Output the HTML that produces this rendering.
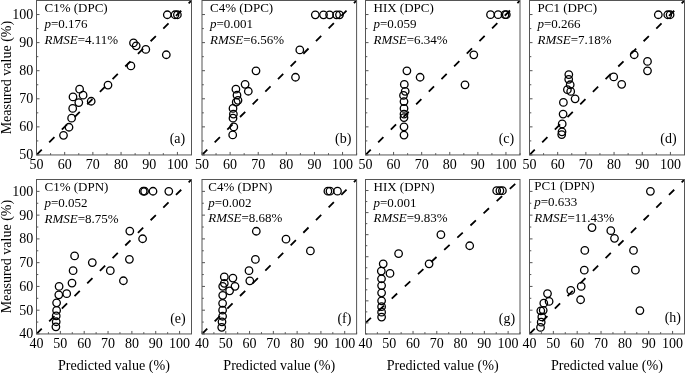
<!DOCTYPE html>
<html><head><meta charset="utf-8"><style>
html,body{margin:0;padding:0;background:#fff;width:685px;height:373px;overflow:hidden;position:relative}
text{font-family:"Liberation Serif", serif;fill:#000}
.tl{font-size:14px}
.an{font-size:13px}
.pl{font-size:14px}
.ax{font-size:14.1px}
.ay{font-size:14px}
</style></head><body>
<svg width="685" height="373" viewBox="0 0 685 373" style="position:absolute;left:0;top:0;will-change:transform">
<clipPath id="cpa"><rect x="36.5" y="0.5" width="155" height="154.45"/></clipPath>
<line x1="36.5" y1="154.95" x2="191.5" y2="0.5" stroke="#000" stroke-width="1.8" stroke-dasharray="7.4 10.5" clip-path="url(#cpa)"/>
<circle cx="167.3" cy="14.75" r="3.75" fill="none" stroke="#000" stroke-width="1.3"/>
<circle cx="175" cy="14.75" r="3.75" fill="none" stroke="#000" stroke-width="1.3"/>
<circle cx="177.4" cy="14.75" r="3.75" fill="none" stroke="#000" stroke-width="1.3"/>
<circle cx="133.5" cy="42.95" r="3.75" fill="none" stroke="#000" stroke-width="1.3"/>
<circle cx="136.2" cy="45.85" r="3.75" fill="none" stroke="#000" stroke-width="1.3"/>
<circle cx="145.8" cy="49.45" r="3.75" fill="none" stroke="#000" stroke-width="1.3"/>
<circle cx="166.3" cy="54.75" r="3.75" fill="none" stroke="#000" stroke-width="1.3"/>
<circle cx="130.9" cy="65.95" r="3.75" fill="none" stroke="#000" stroke-width="1.3"/>
<circle cx="108" cy="85.05" r="3.75" fill="none" stroke="#000" stroke-width="1.3"/>
<circle cx="79.6" cy="89.15" r="3.75" fill="none" stroke="#000" stroke-width="1.3"/>
<circle cx="83.1" cy="95.15" r="3.75" fill="none" stroke="#000" stroke-width="1.3"/>
<circle cx="73" cy="96.95" r="3.75" fill="none" stroke="#000" stroke-width="1.3"/>
<circle cx="78.8" cy="102.55" r="3.75" fill="none" stroke="#000" stroke-width="1.3"/>
<circle cx="91.2" cy="101.25" r="3.75" fill="none" stroke="#000" stroke-width="1.3"/>
<circle cx="72.7" cy="108.45" r="3.75" fill="none" stroke="#000" stroke-width="1.3"/>
<circle cx="71.6" cy="118.15" r="3.75" fill="none" stroke="#000" stroke-width="1.3"/>
<circle cx="69" cy="127.25" r="3.75" fill="none" stroke="#000" stroke-width="1.3"/>
<circle cx="63.5" cy="135.35" r="3.75" fill="none" stroke="#000" stroke-width="1.3"/>
<rect x="36.5" y="0.5" width="155" height="154.45" fill="none" stroke="#555" stroke-width="1"/>
<path d="M36.5 154.95v-3 M50.59 154.95v-1.8 M64.68 154.95v-3 M78.77 154.95v-1.8 M92.86 154.95v-3 M106.95 154.95v-1.8 M121.05 154.95v-3 M135.14 154.95v-1.8 M149.23 154.95v-3 M163.32 154.95v-1.8 M177.41 154.95v-3 M191.5 154.95v-1.8 M36.5 154.95h3 M36.5 140.91h1.8 M36.5 126.87h3 M36.5 112.83h1.8 M36.5 98.79h3 M36.5 84.75h1.8 M36.5 70.7h3 M36.5 56.66h1.8 M36.5 42.62h3 M36.5 28.58h1.8 M36.5 14.54h3 M36.5 0.5h1.8" stroke="#555" stroke-width="1" fill="none"/>
<text x="36.5" y="169.1" text-anchor="middle" class="tl">50</text>
<text x="64.68" y="169.1" text-anchor="middle" class="tl">60</text>
<text x="92.86" y="169.1" text-anchor="middle" class="tl">70</text>
<text x="121.05" y="169.1" text-anchor="middle" class="tl">80</text>
<text x="149.23" y="169.1" text-anchor="middle" class="tl">90</text>
<text x="177.41" y="169.1" text-anchor="middle" class="tl">100</text>
<text x="33.3" y="159.45" text-anchor="end" class="tl">50</text>
<text x="33.3" y="131.37" text-anchor="end" class="tl">60</text>
<text x="33.3" y="103.29" text-anchor="end" class="tl">70</text>
<text x="33.3" y="75.2" text-anchor="end" class="tl">80</text>
<text x="33.3" y="47.12" text-anchor="end" class="tl">90</text>
<text x="33.3" y="19.04" text-anchor="end" class="tl">100</text>
<text x="44.5" y="11.9" class="an">C1% (DPC)</text>
<text x="44.5" y="28" class="an"><tspan font-style="italic">p</tspan>=0.176</text>
<text x="44.5" y="43.8" class="an"><tspan font-style="italic">RMSE</tspan>=4.11%</text>
<text x="185.2" y="143.3" text-anchor="end" class="pl">(a)</text>
<clipPath id="cpb"><rect x="202" y="0.5" width="154.6" height="154.45"/></clipPath>
<line x1="202" y1="154.95" x2="356.6" y2="0.5" stroke="#000" stroke-width="1.8" stroke-dasharray="7.4 10.5" clip-path="url(#cpb)"/>
<circle cx="315.3" cy="14.85" r="3.75" fill="none" stroke="#000" stroke-width="1.3"/>
<circle cx="323.5" cy="14.85" r="3.75" fill="none" stroke="#000" stroke-width="1.3"/>
<circle cx="329.6" cy="14.85" r="3.75" fill="none" stroke="#000" stroke-width="1.3"/>
<circle cx="336.6" cy="14.85" r="3.75" fill="none" stroke="#000" stroke-width="1.3"/>
<circle cx="339.5" cy="14.85" r="3.75" fill="none" stroke="#000" stroke-width="1.3"/>
<circle cx="299.8" cy="49.95" r="3.75" fill="none" stroke="#000" stroke-width="1.3"/>
<circle cx="256" cy="70.85" r="3.75" fill="none" stroke="#000" stroke-width="1.3"/>
<circle cx="295.5" cy="77.25" r="3.75" fill="none" stroke="#000" stroke-width="1.3"/>
<circle cx="245.1" cy="84.35" r="3.75" fill="none" stroke="#000" stroke-width="1.3"/>
<circle cx="248.3" cy="91.25" r="3.75" fill="none" stroke="#000" stroke-width="1.3"/>
<circle cx="235.9" cy="89.15" r="3.75" fill="none" stroke="#000" stroke-width="1.3"/>
<circle cx="237" cy="95.15" r="3.75" fill="none" stroke="#000" stroke-width="1.3"/>
<circle cx="238" cy="100.35" r="3.75" fill="none" stroke="#000" stroke-width="1.3"/>
<circle cx="236.2" cy="102.05" r="3.75" fill="none" stroke="#000" stroke-width="1.3"/>
<circle cx="233" cy="108.45" r="3.75" fill="none" stroke="#000" stroke-width="1.3"/>
<circle cx="233.4" cy="114.05" r="3.75" fill="none" stroke="#000" stroke-width="1.3"/>
<circle cx="233" cy="118.15" r="3.75" fill="none" stroke="#000" stroke-width="1.3"/>
<circle cx="233.8" cy="126.95" r="3.75" fill="none" stroke="#000" stroke-width="1.3"/>
<circle cx="232.7" cy="134.95" r="3.75" fill="none" stroke="#000" stroke-width="1.3"/>
<rect x="202" y="0.5" width="154.6" height="154.45" fill="none" stroke="#555" stroke-width="1"/>
<path d="M202 154.95v-3 M216.05 154.95v-1.8 M230.11 154.95v-3 M244.16 154.95v-1.8 M258.22 154.95v-3 M272.27 154.95v-1.8 M286.33 154.95v-3 M300.38 154.95v-1.8 M314.44 154.95v-3 M328.49 154.95v-1.8 M342.55 154.95v-3 M356.6 154.95v-1.8 M202 154.95h3 M202 140.91h1.8 M202 126.87h3 M202 112.83h1.8 M202 98.79h3 M202 84.75h1.8 M202 70.7h3 M202 56.66h1.8 M202 42.62h3 M202 28.58h1.8 M202 14.54h3 M202 0.5h1.8" stroke="#555" stroke-width="1" fill="none"/>
<text x="202" y="169.1" text-anchor="middle" class="tl">50</text>
<text x="230.11" y="169.1" text-anchor="middle" class="tl">60</text>
<text x="258.22" y="169.1" text-anchor="middle" class="tl">70</text>
<text x="286.33" y="169.1" text-anchor="middle" class="tl">80</text>
<text x="314.44" y="169.1" text-anchor="middle" class="tl">90</text>
<text x="342.55" y="169.1" text-anchor="middle" class="tl">100</text>
<text x="210" y="11.9" class="an">C4% (DPC)</text>
<text x="210" y="28" class="an"><tspan font-style="italic">p</tspan>=0.001</text>
<text x="210" y="43.8" class="an"><tspan font-style="italic">RMSE</tspan>=6.56%</text>
<text x="351.4" y="143.3" text-anchor="end" class="pl">(b)</text>
<clipPath id="cpc"><rect x="365.5" y="0.5" width="154.5" height="154.45"/></clipPath>
<line x1="365.5" y1="154.95" x2="520" y2="0.5" stroke="#000" stroke-width="1.8" stroke-dasharray="7.4 10.5" clip-path="url(#cpc)"/>
<circle cx="490.5" cy="14.65" r="3.75" fill="none" stroke="#000" stroke-width="1.3"/>
<circle cx="498.1" cy="14.65" r="3.75" fill="none" stroke="#000" stroke-width="1.3"/>
<circle cx="505" cy="14.65" r="3.75" fill="none" stroke="#000" stroke-width="1.3"/>
<circle cx="506.3" cy="14.65" r="3.75" fill="none" stroke="#000" stroke-width="1.3"/>
<circle cx="473.8" cy="54.85" r="3.75" fill="none" stroke="#000" stroke-width="1.3"/>
<circle cx="406.9" cy="70.85" r="3.75" fill="none" stroke="#000" stroke-width="1.3"/>
<circle cx="420.1" cy="77.25" r="3.75" fill="none" stroke="#000" stroke-width="1.3"/>
<circle cx="465" cy="84.85" r="3.75" fill="none" stroke="#000" stroke-width="1.3"/>
<circle cx="404.3" cy="84.45" r="3.75" fill="none" stroke="#000" stroke-width="1.3"/>
<circle cx="405.2" cy="91.35" r="3.75" fill="none" stroke="#000" stroke-width="1.3"/>
<circle cx="403.5" cy="95.45" r="3.75" fill="none" stroke="#000" stroke-width="1.3"/>
<circle cx="404" cy="101.55" r="3.75" fill="none" stroke="#000" stroke-width="1.3"/>
<circle cx="404" cy="108.45" r="3.75" fill="none" stroke="#000" stroke-width="1.3"/>
<circle cx="404" cy="114.05" r="3.75" fill="none" stroke="#000" stroke-width="1.3"/>
<circle cx="404" cy="117.55" r="3.75" fill="none" stroke="#000" stroke-width="1.3"/>
<circle cx="404" cy="126.85" r="3.75" fill="none" stroke="#000" stroke-width="1.3"/>
<circle cx="404" cy="135.05" r="3.75" fill="none" stroke="#000" stroke-width="1.3"/>
<rect x="365.5" y="0.5" width="154.5" height="154.45" fill="none" stroke="#555" stroke-width="1"/>
<path d="M365.5 154.95v-3 M379.55 154.95v-1.8 M393.59 154.95v-3 M407.64 154.95v-1.8 M421.68 154.95v-3 M435.73 154.95v-1.8 M449.77 154.95v-3 M463.82 154.95v-1.8 M477.86 154.95v-3 M491.91 154.95v-1.8 M505.95 154.95v-3 M520 154.95v-1.8 M365.5 154.95h3 M365.5 140.91h1.8 M365.5 126.87h3 M365.5 112.83h1.8 M365.5 98.79h3 M365.5 84.75h1.8 M365.5 70.7h3 M365.5 56.66h1.8 M365.5 42.62h3 M365.5 28.58h1.8 M365.5 14.54h3 M365.5 0.5h1.8" stroke="#555" stroke-width="1" fill="none"/>
<text x="365.5" y="169.1" text-anchor="middle" class="tl">50</text>
<text x="393.59" y="169.1" text-anchor="middle" class="tl">60</text>
<text x="421.68" y="169.1" text-anchor="middle" class="tl">70</text>
<text x="449.77" y="169.1" text-anchor="middle" class="tl">80</text>
<text x="477.86" y="169.1" text-anchor="middle" class="tl">90</text>
<text x="505.95" y="169.1" text-anchor="middle" class="tl">100</text>
<text x="373.5" y="11.9" class="an">HIX (DPC)</text>
<text x="373.5" y="28" class="an"><tspan font-style="italic">p</tspan>=0.059</text>
<text x="373.5" y="43.8" class="an"><tspan font-style="italic">RMSE</tspan>=6.34%</text>
<text x="514.2" y="142.7" text-anchor="end" class="pl">(c)</text>
<clipPath id="cpd"><rect x="529.5" y="0.5" width="155" height="154.45"/></clipPath>
<line x1="529.5" y1="154.95" x2="684.5" y2="0.5" stroke="#000" stroke-width="1.8" stroke-dasharray="7.4 10.5" clip-path="url(#cpd)"/>
<circle cx="658.3" cy="14.75" r="3.75" fill="none" stroke="#000" stroke-width="1.3"/>
<circle cx="667.75" cy="14.75" r="3.75" fill="none" stroke="#000" stroke-width="1.3"/>
<circle cx="670.1" cy="14.75" r="3.75" fill="none" stroke="#000" stroke-width="1.3"/>
<circle cx="634.2" cy="54.75" r="3.75" fill="none" stroke="#000" stroke-width="1.3"/>
<circle cx="647.5" cy="61.45" r="3.75" fill="none" stroke="#000" stroke-width="1.3"/>
<circle cx="647.5" cy="70.85" r="3.75" fill="none" stroke="#000" stroke-width="1.3"/>
<circle cx="613.7" cy="76.95" r="3.75" fill="none" stroke="#000" stroke-width="1.3"/>
<circle cx="621.7" cy="84.35" r="3.75" fill="none" stroke="#000" stroke-width="1.3"/>
<circle cx="568.8" cy="74.55" r="3.75" fill="none" stroke="#000" stroke-width="1.3"/>
<circle cx="568.7" cy="79.35" r="3.75" fill="none" stroke="#000" stroke-width="1.3"/>
<circle cx="570.2" cy="84.75" r="3.75" fill="none" stroke="#000" stroke-width="1.3"/>
<circle cx="567.4" cy="89.65" r="3.75" fill="none" stroke="#000" stroke-width="1.3"/>
<circle cx="570.7" cy="91.45" r="3.75" fill="none" stroke="#000" stroke-width="1.3"/>
<circle cx="575.1" cy="98.85" r="3.75" fill="none" stroke="#000" stroke-width="1.3"/>
<circle cx="563.4" cy="102.45" r="3.75" fill="none" stroke="#000" stroke-width="1.3"/>
<circle cx="563.1" cy="114.1" r="3.75" fill="none" stroke="#000" stroke-width="1.3"/>
<circle cx="562.2" cy="123.95" r="3.75" fill="none" stroke="#000" stroke-width="1.3"/>
<circle cx="562" cy="131.85" r="3.75" fill="none" stroke="#000" stroke-width="1.3"/>
<circle cx="561.7" cy="134.55" r="3.75" fill="none" stroke="#000" stroke-width="1.3"/>
<rect x="529.5" y="0.5" width="155" height="154.45" fill="none" stroke="#555" stroke-width="1"/>
<path d="M529.5 154.95v-3 M543.59 154.95v-1.8 M557.68 154.95v-3 M571.77 154.95v-1.8 M585.86 154.95v-3 M599.95 154.95v-1.8 M614.05 154.95v-3 M628.14 154.95v-1.8 M642.23 154.95v-3 M656.32 154.95v-1.8 M670.41 154.95v-3 M684.5 154.95v-1.8 M529.5 154.95h3 M529.5 140.91h1.8 M529.5 126.87h3 M529.5 112.83h1.8 M529.5 98.79h3 M529.5 84.75h1.8 M529.5 70.7h3 M529.5 56.66h1.8 M529.5 42.62h3 M529.5 28.58h1.8 M529.5 14.54h3 M529.5 0.5h1.8" stroke="#555" stroke-width="1" fill="none"/>
<text x="529.5" y="169.1" text-anchor="middle" class="tl">50</text>
<text x="557.68" y="169.1" text-anchor="middle" class="tl">60</text>
<text x="585.86" y="169.1" text-anchor="middle" class="tl">70</text>
<text x="614.05" y="169.1" text-anchor="middle" class="tl">80</text>
<text x="642.23" y="169.1" text-anchor="middle" class="tl">90</text>
<text x="670.41" y="169.1" text-anchor="middle" class="tl">100</text>
<text x="537.5" y="11.9" class="an">PC1 (DPC)</text>
<text x="537.5" y="28" class="an"><tspan font-style="italic">p</tspan>=0.266</text>
<text x="537.5" y="43.8" class="an"><tspan font-style="italic">RMSE</tspan>=7.18%</text>
<text x="676.7" y="143.3" text-anchor="end" class="pl">(d)</text>
<clipPath id="cpe"><rect x="36.5" y="179.5" width="155" height="154.45"/></clipPath>
<line x1="36.5" y1="333.95" x2="191.5" y2="179.5" stroke="#000" stroke-width="1.8" stroke-dasharray="7.4 10.5" clip-path="url(#cpe)"/>
<circle cx="143.2" cy="191.25" r="3.75" fill="none" stroke="#000" stroke-width="1.3"/>
<circle cx="144.6" cy="191.25" r="3.75" fill="none" stroke="#000" stroke-width="1.3"/>
<circle cx="153" cy="191.25" r="3.75" fill="none" stroke="#000" stroke-width="1.3"/>
<circle cx="168.8" cy="191.35" r="3.75" fill="none" stroke="#000" stroke-width="1.3"/>
<circle cx="129.8" cy="231.05" r="3.75" fill="none" stroke="#000" stroke-width="1.3"/>
<circle cx="142.6" cy="238.75" r="3.75" fill="none" stroke="#000" stroke-width="1.3"/>
<circle cx="74.6" cy="255.95" r="3.75" fill="none" stroke="#000" stroke-width="1.3"/>
<circle cx="92.3" cy="262.55" r="3.75" fill="none" stroke="#000" stroke-width="1.3"/>
<circle cx="129.4" cy="259.35" r="3.75" fill="none" stroke="#000" stroke-width="1.3"/>
<circle cx="73.1" cy="270.65" r="3.75" fill="none" stroke="#000" stroke-width="1.3"/>
<circle cx="110.3" cy="270.65" r="3.75" fill="none" stroke="#000" stroke-width="1.3"/>
<circle cx="72" cy="283.05" r="3.75" fill="none" stroke="#000" stroke-width="1.3"/>
<circle cx="123.4" cy="280.75" r="3.75" fill="none" stroke="#000" stroke-width="1.3"/>
<circle cx="59.1" cy="286.45" r="3.75" fill="none" stroke="#000" stroke-width="1.3"/>
<circle cx="66.7" cy="293.65" r="3.75" fill="none" stroke="#000" stroke-width="1.3"/>
<circle cx="58.8" cy="294.85" r="3.75" fill="none" stroke="#000" stroke-width="1.3"/>
<circle cx="56.6" cy="302.85" r="3.75" fill="none" stroke="#000" stroke-width="1.3"/>
<circle cx="56.6" cy="310.45" r="3.75" fill="none" stroke="#000" stroke-width="1.3"/>
<circle cx="56.2" cy="315.95" r="3.75" fill="none" stroke="#000" stroke-width="1.3"/>
<circle cx="56.2" cy="321.75" r="3.75" fill="none" stroke="#000" stroke-width="1.3"/>
<circle cx="55.9" cy="326.85" r="3.75" fill="none" stroke="#000" stroke-width="1.3"/>
<rect x="36.5" y="179.5" width="155" height="154.45" fill="none" stroke="#555" stroke-width="1"/>
<path d="M36.5 333.95v-3 M48.42 333.95v-1.8 M60.35 333.95v-3 M72.27 333.95v-1.8 M84.19 333.95v-3 M96.12 333.95v-1.8 M108.04 333.95v-3 M119.96 333.95v-1.8 M131.88 333.95v-3 M143.81 333.95v-1.8 M155.73 333.95v-3 M167.65 333.95v-1.8 M179.58 333.95v-3 M191.5 333.95v-1.8 M36.5 333.95h3 M36.5 322.07h1.8 M36.5 310.19h3 M36.5 298.31h1.8 M36.5 286.43h3 M36.5 274.55h1.8 M36.5 262.67h3 M36.5 250.78h1.8 M36.5 238.9h3 M36.5 227.02h1.8 M36.5 215.14h3 M36.5 203.26h1.8 M36.5 191.38h3 M36.5 179.5h1.8" stroke="#555" stroke-width="1" fill="none"/>
<text x="36.5" y="347.8" text-anchor="middle" class="tl">40</text>
<text x="60.35" y="347.8" text-anchor="middle" class="tl">50</text>
<text x="84.19" y="347.8" text-anchor="middle" class="tl">60</text>
<text x="108.04" y="347.8" text-anchor="middle" class="tl">70</text>
<text x="131.88" y="347.8" text-anchor="middle" class="tl">80</text>
<text x="155.73" y="347.8" text-anchor="middle" class="tl">90</text>
<text x="179.58" y="347.8" text-anchor="middle" class="tl">100</text>
<text x="33.3" y="338.45" text-anchor="end" class="tl">40</text>
<text x="33.3" y="314.69" text-anchor="end" class="tl">50</text>
<text x="33.3" y="290.93" text-anchor="end" class="tl">60</text>
<text x="33.3" y="267.17" text-anchor="end" class="tl">70</text>
<text x="33.3" y="243.4" text-anchor="end" class="tl">80</text>
<text x="33.3" y="219.64" text-anchor="end" class="tl">90</text>
<text x="33.3" y="195.88" text-anchor="end" class="tl">100</text>
<text x="44.5" y="190.8" class="an">C1% (DPN)</text>
<text x="44.5" y="206.9" class="an"><tspan font-style="italic">p</tspan>=0.052</text>
<text x="44.5" y="222.7" class="an"><tspan font-style="italic">RMSE</tspan>=8.75%</text>
<text x="185.7" y="322.5" text-anchor="end" class="pl">(e)</text>
<clipPath id="cpf"><rect x="202" y="179.5" width="154.6" height="154.45"/></clipPath>
<line x1="202" y1="333.95" x2="356.6" y2="179.5" stroke="#000" stroke-width="1.8" stroke-dasharray="7.4 10.5" clip-path="url(#cpf)"/>
<circle cx="327.9" cy="191.15" r="3.75" fill="none" stroke="#000" stroke-width="1.3"/>
<circle cx="330" cy="191.15" r="3.75" fill="none" stroke="#000" stroke-width="1.3"/>
<circle cx="337.5" cy="191.15" r="3.75" fill="none" stroke="#000" stroke-width="1.3"/>
<circle cx="256.3" cy="231.25" r="3.75" fill="none" stroke="#000" stroke-width="1.3"/>
<circle cx="286" cy="239.15" r="3.75" fill="none" stroke="#000" stroke-width="1.3"/>
<circle cx="310.4" cy="250.95" r="3.75" fill="none" stroke="#000" stroke-width="1.3"/>
<circle cx="255.4" cy="259.45" r="3.75" fill="none" stroke="#000" stroke-width="1.3"/>
<circle cx="249" cy="270.65" r="3.75" fill="none" stroke="#000" stroke-width="1.3"/>
<circle cx="249.8" cy="280.85" r="3.75" fill="none" stroke="#000" stroke-width="1.3"/>
<circle cx="224.3" cy="276.95" r="3.75" fill="none" stroke="#000" stroke-width="1.3"/>
<circle cx="232.9" cy="278.05" r="3.75" fill="none" stroke="#000" stroke-width="1.3"/>
<circle cx="224.3" cy="283.35" r="3.75" fill="none" stroke="#000" stroke-width="1.3"/>
<circle cx="222.7" cy="286.35" r="3.75" fill="none" stroke="#000" stroke-width="1.3"/>
<circle cx="235" cy="286.35" r="3.75" fill="none" stroke="#000" stroke-width="1.3"/>
<circle cx="229.6" cy="290.85" r="3.75" fill="none" stroke="#000" stroke-width="1.3"/>
<circle cx="222.7" cy="295.35" r="3.75" fill="none" stroke="#000" stroke-width="1.3"/>
<circle cx="222.6" cy="303.35" r="3.75" fill="none" stroke="#000" stroke-width="1.3"/>
<circle cx="222.6" cy="310.15" r="3.75" fill="none" stroke="#000" stroke-width="1.3"/>
<circle cx="222.6" cy="316.25" r="3.75" fill="none" stroke="#000" stroke-width="1.3"/>
<circle cx="222" cy="321.85" r="3.75" fill="none" stroke="#000" stroke-width="1.3"/>
<circle cx="221.7" cy="327.35" r="3.75" fill="none" stroke="#000" stroke-width="1.3"/>
<rect x="202" y="179.5" width="154.6" height="154.45" fill="none" stroke="#555" stroke-width="1"/>
<path d="M202 333.95v-3 M213.89 333.95v-1.8 M225.78 333.95v-3 M237.68 333.95v-1.8 M249.57 333.95v-3 M261.46 333.95v-1.8 M273.35 333.95v-3 M285.25 333.95v-1.8 M297.14 333.95v-3 M309.03 333.95v-1.8 M320.92 333.95v-3 M332.82 333.95v-1.8 M344.71 333.95v-3 M356.6 333.95v-1.8 M202 333.95h3 M202 322.07h1.8 M202 310.19h3 M202 298.31h1.8 M202 286.43h3 M202 274.55h1.8 M202 262.67h3 M202 250.78h1.8 M202 238.9h3 M202 227.02h1.8 M202 215.14h3 M202 203.26h1.8 M202 191.38h3 M202 179.5h1.8" stroke="#555" stroke-width="1" fill="none"/>
<text x="202" y="347.8" text-anchor="middle" class="tl">40</text>
<text x="225.78" y="347.8" text-anchor="middle" class="tl">50</text>
<text x="249.57" y="347.8" text-anchor="middle" class="tl">60</text>
<text x="273.35" y="347.8" text-anchor="middle" class="tl">70</text>
<text x="297.14" y="347.8" text-anchor="middle" class="tl">80</text>
<text x="320.92" y="347.8" text-anchor="middle" class="tl">90</text>
<text x="344.71" y="347.8" text-anchor="middle" class="tl">100</text>
<text x="208.3" y="190.5" class="an">C4% (DPN)</text>
<text x="208.3" y="206.6" class="an"><tspan font-style="italic">p</tspan>=0.002</text>
<text x="208.3" y="222.4" class="an"><tspan font-style="italic">RMSE</tspan>=8.68%</text>
<text x="351.4" y="322.8" text-anchor="end" class="pl">(f)</text>
<clipPath id="cpg"><rect x="365.5" y="179.5" width="154.5" height="154.45"/></clipPath>
<line x1="365.5" y1="322.92" x2="520" y2="179.5" stroke="#000" stroke-width="1.8" stroke-dasharray="7.4 10.5" clip-path="url(#cpg)"/>
<circle cx="496.7" cy="190.65" r="3.75" fill="none" stroke="#000" stroke-width="1.3"/>
<circle cx="499.9" cy="190.65" r="3.75" fill="none" stroke="#000" stroke-width="1.3"/>
<circle cx="502.4" cy="190.65" r="3.75" fill="none" stroke="#000" stroke-width="1.3"/>
<circle cx="440.9" cy="234.65" r="3.75" fill="none" stroke="#000" stroke-width="1.3"/>
<circle cx="469.7" cy="245.75" r="3.75" fill="none" stroke="#000" stroke-width="1.3"/>
<circle cx="398.6" cy="253.55" r="3.75" fill="none" stroke="#000" stroke-width="1.3"/>
<circle cx="429.1" cy="263.85" r="3.75" fill="none" stroke="#000" stroke-width="1.3"/>
<circle cx="383.2" cy="263.85" r="3.75" fill="none" stroke="#000" stroke-width="1.3"/>
<circle cx="381.3" cy="271.05" r="3.75" fill="none" stroke="#000" stroke-width="1.3"/>
<circle cx="390" cy="273.45" r="3.75" fill="none" stroke="#000" stroke-width="1.3"/>
<circle cx="381.5" cy="278.75" r="3.75" fill="none" stroke="#000" stroke-width="1.3"/>
<circle cx="381.6" cy="285.55" r="3.75" fill="none" stroke="#000" stroke-width="1.3"/>
<circle cx="381.6" cy="292.85" r="3.75" fill="none" stroke="#000" stroke-width="1.3"/>
<circle cx="381.6" cy="300.85" r="3.75" fill="none" stroke="#000" stroke-width="1.3"/>
<circle cx="381.6" cy="306.65" r="3.75" fill="none" stroke="#000" stroke-width="1.3"/>
<circle cx="381.6" cy="312.15" r="3.75" fill="none" stroke="#000" stroke-width="1.3"/>
<circle cx="381.6" cy="317.05" r="3.75" fill="none" stroke="#000" stroke-width="1.3"/>
<rect x="365.5" y="179.5" width="154.5" height="154.45" fill="none" stroke="#555" stroke-width="1"/>
<path d="M365.5 333.95v-3 M377.38 333.95v-1.8 M389.27 333.95v-3 M401.15 333.95v-1.8 M413.04 333.95v-3 M424.92 333.95v-1.8 M436.81 333.95v-3 M448.69 333.95v-1.8 M460.58 333.95v-3 M472.46 333.95v-1.8 M484.35 333.95v-3 M496.23 333.95v-1.8 M508.12 333.95v-3 M520 333.95v-1.8 M365.5 333.95h1.8 M365.5 322.92h3 M365.5 311.89h1.8 M365.5 300.85h3 M365.5 289.82h1.8 M365.5 278.79h3 M365.5 267.76h1.8 M365.5 256.73h3 M365.5 245.69h1.8 M365.5 234.66h3 M365.5 223.63h1.8 M365.5 212.6h3 M365.5 201.56h1.8 M365.5 190.53h3 M365.5 179.5h1.8" stroke="#555" stroke-width="1" fill="none"/>
<text x="365.5" y="347.8" text-anchor="middle" class="tl">40</text>
<text x="389.27" y="347.8" text-anchor="middle" class="tl">50</text>
<text x="413.04" y="347.8" text-anchor="middle" class="tl">60</text>
<text x="436.81" y="347.8" text-anchor="middle" class="tl">70</text>
<text x="460.58" y="347.8" text-anchor="middle" class="tl">80</text>
<text x="484.35" y="347.8" text-anchor="middle" class="tl">90</text>
<text x="508.12" y="347.8" text-anchor="middle" class="tl">100</text>
<text x="373.5" y="190.5" class="an">HIX (DPN)</text>
<text x="373.5" y="206.6" class="an"><tspan font-style="italic">p</tspan>=0.001</text>
<text x="373.5" y="222.4" class="an"><tspan font-style="italic">RMSE</tspan>=9.83%</text>
<text x="515.2" y="322.8" text-anchor="end" class="pl">(g)</text>
<clipPath id="cph"><rect x="529.5" y="179.5" width="155" height="154.45"/></clipPath>
<line x1="529.5" y1="333.95" x2="684.5" y2="179.5" stroke="#000" stroke-width="1.8" stroke-dasharray="7.4 10.5" clip-path="url(#cph)"/>
<circle cx="650.4" cy="191.35" r="3.75" fill="none" stroke="#000" stroke-width="1.3"/>
<circle cx="592" cy="227.55" r="3.75" fill="none" stroke="#000" stroke-width="1.3"/>
<circle cx="610.8" cy="230.65" r="3.75" fill="none" stroke="#000" stroke-width="1.3"/>
<circle cx="614.5" cy="238.35" r="3.75" fill="none" stroke="#000" stroke-width="1.3"/>
<circle cx="584.8" cy="250.45" r="3.75" fill="none" stroke="#000" stroke-width="1.3"/>
<circle cx="633.5" cy="250.45" r="3.75" fill="none" stroke="#000" stroke-width="1.3"/>
<circle cx="584.3" cy="270.15" r="3.75" fill="none" stroke="#000" stroke-width="1.3"/>
<circle cx="635.4" cy="270.15" r="3.75" fill="none" stroke="#000" stroke-width="1.3"/>
<circle cx="581.2" cy="286.45" r="3.75" fill="none" stroke="#000" stroke-width="1.3"/>
<circle cx="570.8" cy="290.45" r="3.75" fill="none" stroke="#000" stroke-width="1.3"/>
<circle cx="580.6" cy="299.75" r="3.75" fill="none" stroke="#000" stroke-width="1.3"/>
<circle cx="639.9" cy="310.55" r="3.75" fill="none" stroke="#000" stroke-width="1.3"/>
<circle cx="547.5" cy="293.55" r="3.75" fill="none" stroke="#000" stroke-width="1.3"/>
<circle cx="549.1" cy="301.45" r="3.75" fill="none" stroke="#000" stroke-width="1.3"/>
<circle cx="543.8" cy="303.15" r="3.75" fill="none" stroke="#000" stroke-width="1.3"/>
<circle cx="543.2" cy="310.35" r="3.75" fill="none" stroke="#000" stroke-width="1.3"/>
<circle cx="540.8" cy="310.85" r="3.75" fill="none" stroke="#000" stroke-width="1.3"/>
<circle cx="541.8" cy="316.95" r="3.75" fill="none" stroke="#000" stroke-width="1.3"/>
<circle cx="541.2" cy="322.15" r="3.75" fill="none" stroke="#000" stroke-width="1.3"/>
<circle cx="540.5" cy="327.45" r="3.75" fill="none" stroke="#000" stroke-width="1.3"/>
<rect x="529.5" y="179.5" width="155" height="154.45" fill="none" stroke="#555" stroke-width="1"/>
<path d="M529.5 333.95v-3 M541.42 333.95v-1.8 M553.35 333.95v-3 M565.27 333.95v-1.8 M577.19 333.95v-3 M589.12 333.95v-1.8 M601.04 333.95v-3 M612.96 333.95v-1.8 M624.88 333.95v-3 M636.81 333.95v-1.8 M648.73 333.95v-3 M660.65 333.95v-1.8 M672.58 333.95v-3 M684.5 333.95v-1.8 M529.5 333.95h3 M529.5 322.07h1.8 M529.5 310.19h3 M529.5 298.31h1.8 M529.5 286.43h3 M529.5 274.55h1.8 M529.5 262.67h3 M529.5 250.78h1.8 M529.5 238.9h3 M529.5 227.02h1.8 M529.5 215.14h3 M529.5 203.26h1.8 M529.5 191.38h3 M529.5 179.5h1.8" stroke="#555" stroke-width="1" fill="none"/>
<text x="529.5" y="347.8" text-anchor="middle" class="tl">40</text>
<text x="553.35" y="347.8" text-anchor="middle" class="tl">50</text>
<text x="577.19" y="347.8" text-anchor="middle" class="tl">60</text>
<text x="601.04" y="347.8" text-anchor="middle" class="tl">70</text>
<text x="624.88" y="347.8" text-anchor="middle" class="tl">80</text>
<text x="648.73" y="347.8" text-anchor="middle" class="tl">90</text>
<text x="672.58" y="347.8" text-anchor="middle" class="tl">100</text>
<text x="534.2" y="190" class="an">PC1 (DPN)</text>
<text x="534.2" y="206.1" class="an"><tspan font-style="italic">p</tspan>=0.633</text>
<text x="534.2" y="221.9" class="an"><tspan font-style="italic">RMSE</tspan>=11.43%</text>
<text x="681" y="322" text-anchor="end" class="pl">(h)</text>
<text x="114" y="370" text-anchor="middle" class="ax">Predicted value (%)</text>
<text x="279.3" y="370" text-anchor="middle" class="ax">Predicted value (%)</text>
<text x="442.75" y="370" text-anchor="middle" class="ax">Predicted value (%)</text>
<text x="607" y="370" text-anchor="middle" class="ax">Predicted value (%)</text>
<text transform="translate(11.0 77.62) rotate(-90)" text-anchor="middle" class="ay">Measured value (%)</text>
<text transform="translate(11.0 256.62) rotate(-90)" text-anchor="middle" class="ay">Measured value (%)</text>
</svg>
</body></html>
